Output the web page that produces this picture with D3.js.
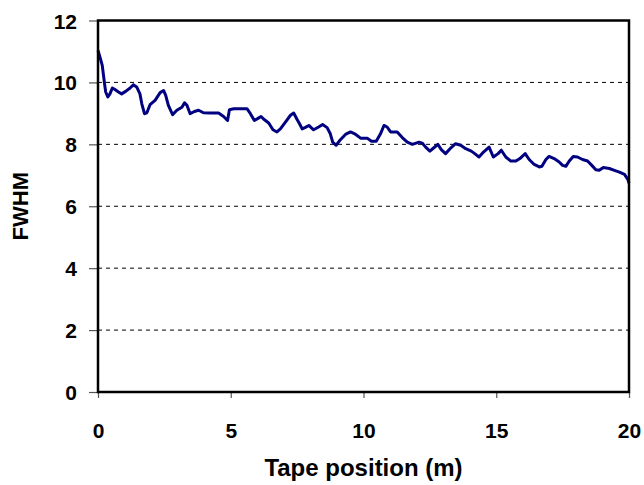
<!DOCTYPE html>
<html>
<head>
<meta charset="utf-8">
<script src="https://cdn.jsdelivr.net/npm/d3@7"></script>
<style>
  body { margin: 0; background: #fff; }
  svg { display: block; font-family: "Liberation Sans", Arial, sans-serif; font-weight: bold; }
</style>
</head>
<body>
<div id="chart"></div>
<script>
// tape position (m)
const position = [0, 0.08, 0.16, 0.24, 0.29, 0.37, 0.45, 0.54, 0.64, 0.77,
  0.89, 1.04, 1.21, 1.33, 1.46, 1.58, 1.65, 1.75, 1.84, 1.96,
  2.15, 2.34, 2.47, 2.55, 2.65, 2.81, 2.97, 3.16, 3.26, 3.35,
  3.47, 3.63, 3.79, 3.97, 4.23, 4.54, 4.73, 4.88, 4.95, 5.11,
  5.42, 5.61, 5.74, 5.89, 6.01, 6.14, 6.26, 6.43, 6.59, 6.74,
  6.87, 7.06, 7.25, 7.37, 7.5, 7.6, 7.69, 7.81, 7.94, 8.12,
  8.31, 8.46, 8.63, 8.75, 8.84, 8.97, 9.13, 9.32, 9.51, 9.67,
  9.89, 10.14, 10.3, 10.48, 10.64, 10.77, 10.89, 11.02, 11.27, 11.46,
  11.65, 11.84, 12.09, 12.21, 12.34, 12.5, 12.65, 12.8, 12.93, 13.09,
  13.26, 13.47, 13.66, 13.85, 14.06, 14.19, 14.35, 14.52, 14.73, 14.89,
  15.07, 15.19, 15.36, 15.55, 15.74, 15.89, 16.09, 16.24, 16.43, 16.62,
  16.72, 16.87, 16.99, 17.18, 17.37, 17.5, 17.62, 17.75, 17.9, 18.06,
  18.25, 18.44, 18.6, 18.75, 18.88, 19.03, 19.26, 19.45, 19.64, 19.83,
  19.96, 20]

const fwhm = [11.03, 10.8, 10.55, 10.0, 9.69, 9.53, 9.63, 9.82, 9.77, 9.69,
  9.63, 9.71, 9.82, 9.92, 9.85, 9.63, 9.31, 8.99, 9.02, 9.28,
  9.42, 9.67, 9.74, 9.58, 9.26, 8.96, 9.10, 9.20, 9.34, 9.26,
  8.99, 9.06, 9.10, 9.02, 9.01, 9.01, 8.9, 8.77, 9.12, 9.15,
  9.15, 9.15, 8.99, 8.77, 8.83, 8.9, 8.8, 8.69, 8.47, 8.4,
  8.5, 8.72, 8.94, 9.01, 8.8, 8.65, 8.5, 8.55, 8.61, 8.47,
  8.56, 8.64, 8.54, 8.34, 8.07, 7.97, 8.15, 8.32, 8.4, 8.34,
  8.2, 8.2, 8.1, 8.1, 8.34, 8.61, 8.56, 8.4, 8.4, 8.22,
  8.07, 8.0, 8.07, 8.04, 7.91, 7.78, 7.89, 8.0, 7.83, 7.7,
  7.86, 8.02, 7.97, 7.86, 7.78, 7.7, 7.59, 7.75, 7.91, 7.59,
  7.7, 7.81, 7.59, 7.46, 7.46, 7.54, 7.7, 7.51, 7.35, 7.27,
  7.29, 7.51, 7.61, 7.54, 7.43, 7.32, 7.29, 7.46, 7.61, 7.59,
  7.51, 7.46, 7.32, 7.18, 7.16, 7.25, 7.22, 7.16, 7.1, 7.03,
  6.86, 6.74]

const xTicks = [0, 5, 10, 15, 20]
const yTicks = [0, 2, 4, 6, 8, 10, 12]

const W = 644, H = 485
const plotLeft = 98, plotRight = 629, plotTop = 20.5, plotBottom = 392

const svg = d3.select('#chart').append('svg')
    .attr('width', W)
    .attr('height', H)

const x = d3.scaleLinear().domain([0, 20]).range([plotLeft, plotRight])
const y = d3.scaleLinear().domain([0, 12]).range([plotBottom, plotTop])

// dashed gridlines
svg.append('g')
    .selectAll('line')
    .data(yTicks.filter(t => t > 0 && t < 12))
    .join('line')
    .attr('x1', plotLeft).attr('x2', plotRight)
    .attr('y1', d => y(d)).attr('y2', d => y(d))
    .attr('stroke', '#000')
    .attr('stroke-width', 1)
    .attr('stroke-dasharray', '4,4')

// axes
const yAxis = svg.append('g')
    .attr('transform', 'translate(' + plotLeft + ',0)')
    .call(d3.axisLeft(y).tickValues(yTicks).tickSize(9).tickPadding(12).tickFormat(d3.format('d')))
const xAxis = svg.append('g')
    .attr('transform', 'translate(0,' + plotBottom + ')')
    .call(d3.axisBottom(x).tickValues(xTicks).tickSize(6).tickPadding(25).tickFormat(d3.format('d')))

;[yAxis, xAxis].forEach(g => {
    g.select('.domain').remove()
    g.selectAll('.tick line').attr('stroke', '#555').attr('stroke-width', 1.2)
    g.selectAll('.tick text')
        .attr('fill', '#000')
        .style('font-size', '21px')
        .style('font-family', '"Liberation Sans", Arial, sans-serif')
        .style('font-weight', 'bold')
})
yAxis.selectAll('.tick text').attr('dy', '0.36em')

// data line
const line = d3.line()
    .x((d, i) => x(position[i]))
    .y(d => y(d))

svg.append('path')
    .datum(fwhm)
    .attr('fill', 'none')
    .attr('stroke', '#000080')
    .attr('stroke-width', 3)
    .attr('stroke-linejoin', 'round')
    .attr('d', line)

// plot area border
svg.append('rect')
    .attr('x', plotLeft).attr('y', plotTop)
    .attr('width', plotRight - plotLeft).attr('height', plotBottom - plotTop)
    .attr('fill', 'none')
    .attr('stroke', '#000')
    .attr('stroke-width', 2.5)

// axis titles
svg.append('text')
    .attr('x', (plotLeft + plotRight) / 2)
    .attr('y', 476)
    .attr('text-anchor', 'middle')
    .style('font-size', '24px')
    .text('Tape position (m)')

svg.append('text')
    .attr('transform', 'translate(28,' + ((plotTop + plotBottom) / 2) + ') rotate(-90)')
    .attr('text-anchor', 'middle')
    .style('font-size', '22px')
    .text('FWHM')
</script>
</body>
</html>
